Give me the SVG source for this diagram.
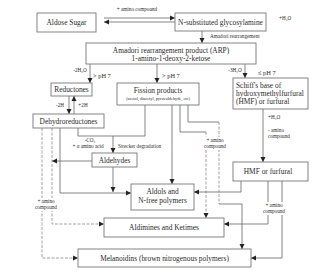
<svg xmlns="http://www.w3.org/2000/svg" width="320" height="273" viewBox="0 0 320 273">
<style>
text{font-family:"Liberation Serif","DejaVu Serif",serif;fill:#2a2a2a}
.box{fill:#fff;stroke:#777;stroke-width:0.9}
.t{font-size:7.4px;text-anchor:middle}
.s{font-size:5.2px}
.c{text-anchor:middle}
.p{font-size:6.4px}
.ln{fill:none;stroke:#666;stroke-width:0.8}
.dl{fill:none;stroke:#888;stroke-width:0.8;stroke-dasharray:3,1.5}
.bg{fill:#fff}
</style>
<defs>
<marker id="ah" markerUnits="userSpaceOnUse" markerWidth="6" markerHeight="6" refX="5" refY="3" orient="auto">
<path d="M0,0.5 L5,3 L0,5.5 Z" fill="#222"/>
</marker>
</defs>
<rect width="320" height="273" fill="#fff"/>

<g id="connectors">
<path class="ln" d="M104,18 H175" marker-end="url(#ah)"/>
<path class="ln" d="M175,22 H104" marker-end="url(#ah)"/>
<path class="ln" d="M202,31 V43" marker-end="url(#ah)"/>
<path class="ln" d="M90,64 V83" marker-end="url(#ah)"/>
<path class="ln" d="M157,64 V83" marker-end="url(#ah)"/>
<path class="ln" d="M245,64 V78" marker-end="url(#ah)"/>
<path class="ln" d="M69,96 V114" marker-end="url(#ah)"/>
<path class="ln" d="M74,114 V96" marker-end="url(#ah)"/>
<path class="ln" d="M78,128 V136 H145 V105"/>
<path class="ln" d="M113,136 V153" marker-end="url(#ah)"/>
<path class="ln" d="M92,161 H52" marker-end="url(#ah)"/>
<path class="ln" d="M113,167 V192" marker-end="url(#ah)"/>
<path class="ln" d="M60,128 V193 H131" marker-end="url(#ah)"/>
<path class="dl" d="M52,128 V224 H104" marker-end="url(#ah)"/>
<path class="dl" d="M42,128 V258 H78" marker-end="url(#ah)"/>
<path class="ln" d="M172,105 V184" marker-end="url(#ah)"/>
<path class="ln" d="M180,105 V132 H206"/>
<path class="dl" d="M206,132 V218" marker-end="url(#ah)"/>
<path class="ln" d="M188,105 V122 H219"/>
<path class="dl" d="M219,122 V204"/>
<path class="ln" d="M219,204 H242 V249" marker-end="url(#ah)"/>
<path class="ln" d="M263,109 V162" marker-end="url(#ah)"/>
<path class="ln" d="M241,181 V192 H194" marker-end="url(#ah)"/>
<path class="ln" d="M268,181 V224 H224" marker-end="url(#ah)"/>
<path class="ln" d="M282,181 V258 H251" marker-end="url(#ah)"/>
</g>

<g id="labels">
<text class="s c" x="137" y="11">+ amino compound</text>
<text class="s" x="279" y="20">+H₂O</text>
<text class="s" x="210" y="38">Amadori rearrangement</text>
<text class="s c" x="80" y="72">-2H₂O</text>
<text class="p" x="93" y="78">&gt; pH 7</text>
<text class="p" x="162" y="78">&gt; pH 7</text>
<text class="s c" x="235" y="72">-3H₂O</text>
<text class="p" x="258" y="75">≤ pH 7</text>
<text class="s c" x="60" y="107">-2H</text>
<text class="s c" x="83" y="107">+2H</text>
<text class="s c" x="90" y="142">-CO₂</text>
<text class="s c" x="88" y="148">+ α amino acid</text>
<text class="s" x="118" y="148">Strecker degradation</text>
<text class="s" x="268" y="119">+H₂O</text>
<text class="s" x="268" y="132">- amino</text>
<text class="s" x="268" y="138">compound</text>
<rect class="bg" x="200" y="137" width="30" height="13"/>
<text class="s c" x="215" y="142">+ amino</text>
<text class="s c" x="215" y="148">compound</text>
<rect class="bg" x="33" y="198" width="27" height="13"/>
<text class="s c" x="46" y="203">+ amino</text>
<text class="s c" x="46" y="209">compound</text>
<rect class="bg" x="260" y="202" width="28" height="13"/>
<text class="s c" x="274" y="207">+ amino</text>
<text class="s c" x="274" y="213">compound</text>
</g>

<g id="aldose"><rect class="box" x="37" y="13" width="59" height="19"/><text class="t" x="66.5" y="25">Aldose Sugar</text></g>
<g id="nsub"><rect class="box" x="175" y="13" width="91" height="18"/><text class="t" x="220.5" y="24.5">N-substituted glycosylamine</text></g>
<g id="amadori"><rect class="box" x="86" y="43" width="170" height="21"/><text class="t" x="171" y="52.5">Amadori rearrangement product (ARP)</text><text class="t" x="171" y="61">1-amino-1-deoxy-2-ketose</text></g>
<g id="reductones"><rect class="box" x="51" y="83" width="41" height="13"/><text class="t" x="71.5" y="92">Reductones</text></g>
<g id="fission"><rect class="box" x="117" y="83" width="82" height="22"/><text class="t" x="158" y="93">Fission products</text><text x="158" y="99.5" style="font-size:4.3px;text-anchor:middle">(acetol, diacetyl, pyruvaldehyde, etc)</text></g>
<g id="schiff"><rect class="box" x="233" y="78" width="75" height="31"/><text class="t" x="236" y="87.5" style="text-anchor:start">Schiff's base of</text><text class="t" x="236" y="95.5" style="text-anchor:start">hydroxymethylfurfural</text><text class="t" x="236" y="103.5" style="text-anchor:start">(HMF) or furfural</text></g>
<g id="dehydro"><rect class="box" x="33" y="114" width="71" height="14"/><text class="t" x="68.5" y="123.5">Dehydroreductones</text></g>
<g id="aldehydes"><rect class="box" x="92" y="153" width="45" height="14"/><text class="t" x="114.5" y="162.5">Aldehydes</text></g>
<g id="hmf"><rect class="box" x="233" y="162" width="75" height="19"/><text class="t" x="268" y="174">HMF or furfural</text></g>
<g id="aldols"><rect class="box" x="131" y="184" width="63" height="26"/><text class="t" x="162.5" y="194">Aldols and</text><text class="t" x="162.5" y="203">N-free polymers</text></g>
<g id="aldimines"><rect class="box" x="104" y="218" width="120" height="19"/><text class="t" x="164" y="230">Aldimines and Ketimes</text></g>
<g id="melanoidins"><rect class="box" x="78" y="249" width="173" height="18"/><text class="t" x="164.5" y="260.5">Melanoidins (brown nitrogenous polymers)</text></g>
</svg>
